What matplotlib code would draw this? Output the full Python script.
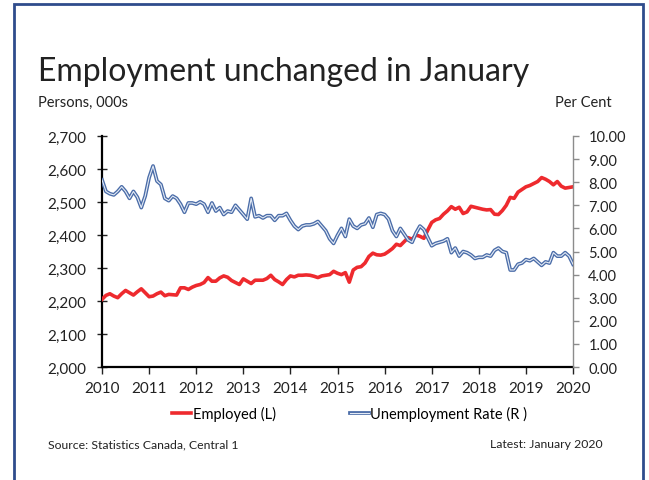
"""
Employment vs unemployment rate, Jan 2010 - Jan 2020.

Two-axis line chart: employed persons (000s, left) in red and the
unemployment rate (%, right) as a double-stroked blue line.
Saves out.png (649x481).
"""

import numpy as np
import matplotlib
matplotlib.use("Agg")
import matplotlib.pyplot as plt
import matplotlib.patheffects as pe
from matplotlib.lines import Line2D
from matplotlib.patches import Rectangle
from matplotlib.ticker import FuncFormatter

# ---------------------------------------------------------------------------
# Data (monthly, Jan 2010 .. Jan 2020)
# ---------------------------------------------------------------------------
start_year = 2010
employed = [
    2205, 2217, 2222, 2215, 2210, 2222, 2232, 2225, 2218, 2228, 2237, 2225,
    2213, 2215, 2222, 2227, 2216, 2220, 2219, 2218, 2240, 2240, 2235, 2242,
    2247, 2250, 2256, 2271, 2260, 2260, 2270, 2276, 2272, 2262, 2256, 2250,
    2267, 2260, 2253, 2263, 2263, 2263, 2268, 2278, 2265, 2258, 2250, 2265,
    2276, 2273, 2278, 2278, 2279, 2278, 2275, 2271, 2276, 2278, 2280, 2290,
    2284, 2280, 2286, 2257, 2294, 2302, 2304, 2315, 2335, 2345, 2340, 2339,
    2342, 2350, 2359, 2372, 2368, 2380, 2392, 2387, 2400, 2396, 2390, 2415,
    2438, 2446, 2450, 2463, 2473, 2486, 2478, 2484, 2465, 2470, 2487, 2484,
    2481, 2478, 2476, 2477, 2463, 2462, 2474, 2490, 2514, 2511, 2530, 2538,
    2546, 2550, 2556, 2562, 2574, 2569, 2562, 2552, 2562, 2548, 2542, 2544,
    2546,
]
unemployment = [
    8.10, 7.60, 7.50, 7.45, 7.60, 7.80, 7.60, 7.30, 7.60, 7.35, 6.90, 7.40,
    8.20, 8.70, 8.05, 7.90, 7.30, 7.20, 7.40, 7.30, 7.05, 6.70, 7.10, 7.10,
    7.05, 7.15, 7.05, 6.70, 7.10, 6.75, 6.90, 6.60, 6.75, 6.70, 7.00, 6.80,
    6.60, 6.40, 7.30, 6.50, 6.55, 6.45, 6.55, 6.55, 6.35, 6.55, 6.55, 6.65,
    6.35, 6.10, 5.95, 6.10, 6.15, 6.15, 6.20, 6.30, 6.10, 5.90, 5.55, 5.35,
    5.70, 6.00, 5.65, 6.40, 6.10, 6.00, 6.15, 6.20, 6.45, 6.05, 6.60, 6.65,
    6.60, 6.40, 5.90, 5.65, 6.00, 5.75, 5.50, 5.40, 5.80, 6.10, 5.95, 5.60,
    5.25, 5.35, 5.40, 5.45, 5.55, 4.95, 5.15, 4.80, 5.00, 4.95, 4.85, 4.70,
    4.75, 4.75, 4.85, 4.80, 5.05, 5.15, 5.00, 4.95, 4.20, 4.20, 4.45, 4.50,
    4.65, 4.60, 4.70, 4.55, 4.40, 4.55, 4.50, 4.95, 4.80, 4.80, 4.95, 4.80,
    4.45,
]
year_ticks = list(range(2010, 2021))
left_ticks = [2000, 2100, 2200, 2300, 2400, 2500, 2600, 2700]
right_ticks = [0, 1, 2, 3, 4, 5, 6, 7, 8, 9, 10]

x = start_year + np.arange(len(employed)) / 12.0

# ---------------------------------------------------------------------------
# Style
# ---------------------------------------------------------------------------
FONT = "Lato"
RED = "#EE2A2E"
BLUE_EDGE = "#4A6CA8"
BLUE_FILL = "#E4EBF5"
FRAME = "#2F4C8C"
TEXT = "#222222"

plt.rcParams["font.family"] = FONT

fig = plt.figure(figsize=(6.49, 4.81), dpi=100)

# Slide-style frame (open at the bottom)
fig.patches.append(Rectangle((0.0216, -0.05), 0.969, 1.04, transform=fig.transFigure,
                             fill=False, edgecolor=FRAME, linewidth=2.0))

ax = fig.add_axes([0.1572, 0.2349, 0.7257, 0.4803])
ax2 = ax.twinx()

# Employed (left)
ax.plot(x, employed, color=RED, linewidth=2.6, solid_joinstyle="round", zorder=3)
ax.set_xlim(2010, 2020)
ax.set_ylim(2000, 2700)
ax.set_yticks(left_ticks)
ax.yaxis.set_major_formatter(FuncFormatter(lambda v, p: f"{v:,.0f}"))
ax.set_xticks(year_ticks)

# Unemployment rate (right), double stroke
ax2.plot(x, unemployment, color=BLUE_FILL, linewidth=0.8, zorder=3,
         path_effects=[pe.Stroke(linewidth=2.7, foreground=BLUE_EDGE), pe.Normal()])
ax2.set_ylim(0, 10)
ax2.set_yticks(right_ticks)
ax2.yaxis.set_major_formatter(FuncFormatter(lambda v, p: f"{v:.2f}"))

# Spines / ticks
for a in (ax, ax2):
    a.spines["top"].set_visible(False)
    a.patch.set_visible(False)
ax.spines["right"].set_visible(False)
ax2.spines["left"].set_visible(False)
ax2.spines["bottom"].set_visible(False)
ax.spines["left"].set_linewidth(1.6)
ax.spines["bottom"].set_linewidth(1.6)
ax2.spines["right"].set_color("#8C8C8C")
ax2.spines["right"].set_linewidth(1.0)

ax.tick_params(axis="y", direction="inout", length=7, width=1.0, labelsize=11,
               colors=TEXT, pad=8)
ax.tick_params(axis="x", direction="out", length=5, width=1.0, labelsize=11,
               colors=TEXT, pad=5)
ax2.tick_params(axis="y", direction="out", length=4, width=1.0, color="#8C8C8C",
                labelcolor=TEXT, labelsize=10.5, pad=7)

# Texts
fig.text(0.058, 0.851, "Employment unchanged in January", fontsize=23, color=TEXT,
         ha="left", va="center")
fig.text(0.058, 0.786, "Persons, 000s", fontsize=10.5, color=TEXT, ha="left", va="center")
fig.text(0.943, 0.786, "Per Cent", fontsize=10.5, color=TEXT, ha="right", va="center")
fig.text(0.074, 0.075, "Source: Statistics Canada, Central 1", fontsize=8.8, color=TEXT,
         ha="left", va="center")
fig.text(0.929, 0.075, "Latest: January 2020", fontsize=8.8, color=TEXT,
         ha="right", va="center")

# Legend
handles = [
    Line2D([0], [0], color=RED, linewidth=2.6),
    Line2D([0], [0], color=BLUE_FILL, linewidth=0.8,
           path_effects=[pe.Stroke(linewidth=2.7, foreground=BLUE_EDGE), pe.Normal()]),
]
fig.legend(handles, ["Employed (L)", "Unemployment Rate (R )"], loc="center",
           bbox_to_anchor=(0.539, 0.139), ncol=2, frameon=False, fontsize=10.5,
           handlelength=1.3, handletextpad=0.1, columnspacing=5.1)

fig.savefig("out.png", dpi=100)
